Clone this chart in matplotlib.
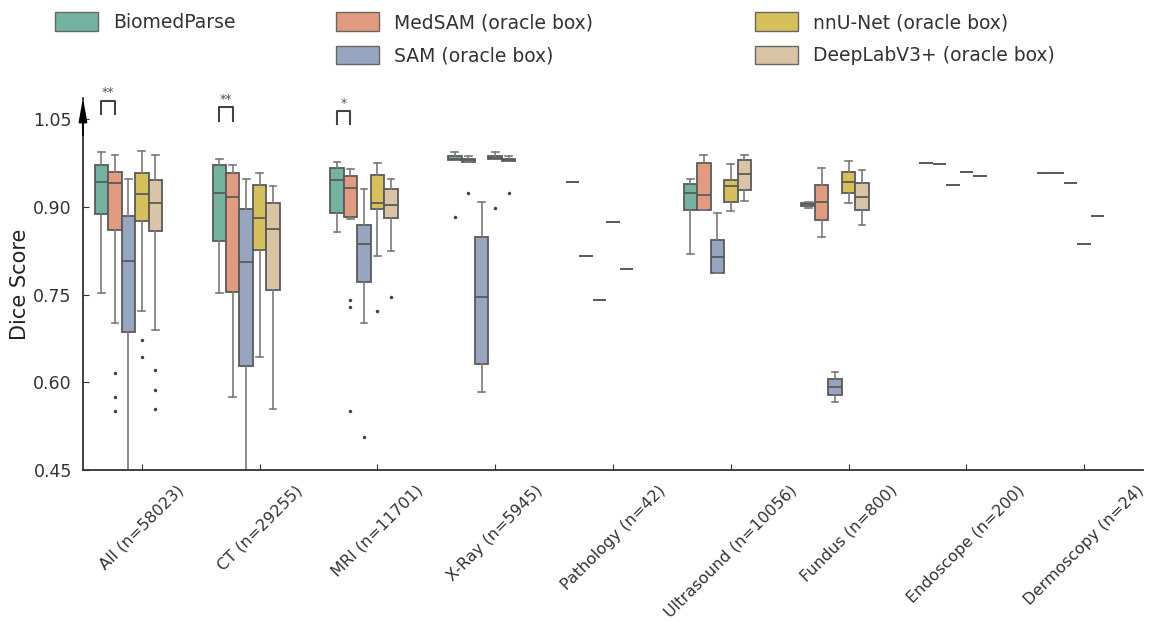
#!/usr/bin/python3

import matplotlib
matplotlib.use('Agg')
import matplotlib.pyplot as plt
from matplotlib.patches import Patch

CATEGORIES = ['All (n=58023)', 'CT (n=29255)', 'MRI (n=11701)', 'X-Ray (n=5945)',
              'Pathology (n=42)', 'Ultrasound (n=10056)', 'Fundus (n=800)',
              'Endoscope (n=200)', 'Dermoscopy (n=24)']
MODELS = ['BiomedParse', 'MedSAM (oracle box)', 'SAM (oracle box)',
          'nnU-Net (oracle box)', 'DeepLabV3+ (oracle box)']
COLORS = ['#73b3a0', '#e09b80', '#98a5c0', '#d6c05a', '#d9c5a5']

# (whislo, q1, median, q3, whishi) per category
BIOMEDPARSE = [(0.753, 0.888, 0.943, 0.971, 0.994), (0.753, 0.841, 0.924, 0.971, 0.982),
               (0.857, 0.889, 0.946, 0.966, 0.977), (0.980, 0.980, 0.981, 0.987, 0.994),
               (0.943,) * 5, (0.820, 0.894, 0.923, 0.939, 0.948),
               (0.898, 0.901, 0.904, 0.906, 0.909), (0.975,) * 5, (0.957,) * 5]
MEDSAM = [(0.702, 0.860, 0.941, 0.960, 0.989), (0.574, 0.755, 0.916, 0.957, 0.972),
          (0.879, 0.882, 0.932, 0.953, 0.964), (0.977, 0.977, 0.980, 0.982, 0.986),
          (0.816,) * 5, (0.894, 0.894, 0.920, 0.974, 0.989),
          (0.848, 0.878, 0.908, 0.937, 0.967), (0.973,) * 5, (0.958,) * 5]
SAM = [(0.30, 0.686, 0.808, 0.884, 0.948), (0.30, 0.628, 0.806, 0.896, 0.948),
       (0.702, 0.771, 0.836, 0.868, 0.930), (0.583, 0.632, 0.745, 0.849, 0.908),
       (0.741,) * 5, (0.786, 0.786, 0.814, 0.843, 0.889),
       (0.566, 0.579, 0.592, 0.605, 0.618), (0.938,) * 5, (0.940,) * 5]
NNUNET = [(0.722, 0.875, 0.922, 0.957, 0.995), (0.643, 0.826, 0.880, 0.937, 0.957),
          (0.816, 0.897, 0.907, 0.955, 0.975), (0.981, 0.981, 0.984, 0.987, 0.994),
          (0.874,) * 5, (0.893, 0.909, 0.935, 0.945, 0.973),
          (0.906, 0.924, 0.942, 0.960, 0.978), (0.959,) * 5, (0.837,) * 5]
DEEPLAB = [(0.689, 0.859, 0.906, 0.946, 0.988), (0.555, 0.758, 0.862, 0.906, 0.935),
           (0.824, 0.881, 0.903, 0.930, 0.948), (0.978, 0.978, 0.980, 0.982, 0.987),
           (0.794,) * 5, (0.910, 0.929, 0.956, 0.980, 0.988),
           (0.869, 0.894, 0.916, 0.940, 0.963), (0.953,) * 5, (0.884,) * 5]

BIOMEDPARSE_FLIERS = [[], [], [], [0.883], [], [], [], [], []]
MEDSAM_FLIERS = [[0.615, 0.574, 0.551], [], [0.741, 0.729, 0.551], [0.924], [], [], [], [], []]
SAM_FLIERS = [[], [], [0.506], [], [], [], [], [], []]
NNUNET_FLIERS = [[0.672, 0.643], [], [0.722], [0.898], [], [], [], [], []]
DEEPLAB_FLIERS = [[0.621, 0.586, 0.555], [], [0.746], [0.924], [], [], [], [], []]

SIG_CATEGORY = [0, 1, 2]
SIG_TEXT = ['**', '**', '*']
SIG_TOP = [1.081, 1.070, 1.063]
SIG_BOTTOM = [1.058, 1.047, 1.042]

STATS = [BIOMEDPARSE, MEDSAM, SAM, NNUNET, DEEPLAB]
FLIERS = [BIOMEDPARSE_FLIERS, MEDSAM_FLIERS, SAM_FLIERS, NNUNET_FLIERS, DEEPLAB_FLIERS]
NSLOTS = 7          # hue slots per category (two of them are empty)
SLOT = 0.8 / NSLOTS
EDGE = '#5a5a5a'


def slot_x(cat, model):
    return cat + (model - 3) * SLOT


fig = plt.figure(figsize=(11.49, 6.21), dpi=100)
ax = fig.add_axes([0.0722, 0.2432, 0.9226, 0.599])

for m, (stats, fliers) in enumerate(zip(STATS, FLIERS)):
    bxp_stats = []
    for c, (lo, q1, med, q3, hi) in enumerate(stats):
        bxp_stats.append(dict(whislo=lo, q1=q1, med=med, q3=q3, whishi=hi, fliers=fliers[c]))
    ax.bxp(bxp_stats, positions=[slot_x(c, m) for c in range(len(CATEGORIES))],
           widths=SLOT, patch_artist=True, manage_ticks=False,
           boxprops=dict(facecolor=COLORS[m], edgecolor=EDGE, linewidth=1.3),
           medianprops=dict(color=EDGE, linewidth=1.3),
           whiskerprops=dict(color='#7a7a7a', linewidth=1.2),
           capprops=dict(color='#7a7a7a', linewidth=1.2),
           flierprops=dict(marker='o', markersize=1.5, markerfacecolor='#444444',
                           markeredgecolor='#444444', linestyle='none'))

# significance brackets
for c, txt, top, bot in zip(SIG_CATEGORY, SIG_TEXT, SIG_TOP, SIG_BOTTOM):
    x0, x1 = slot_x(c, 0), slot_x(c, 1)
    ax.plot([x0, x0, x1, x1], [bot, top, top, bot], color='#444444', lw=1.5, clip_on=False)
    ax.text((x0 + x1) / 2, top + 0.003, txt, ha='center', va='bottom', fontsize=9,
            color='#555555')

ax.set_xlim(-0.5, len(CATEGORIES) - 0.5)
ax.set_ylim(0.45, 1.086)
ax.set_yticks([0.45, 0.60, 0.75, 0.90, 1.05])
ax.set_yticklabels(['%.2f' % v for v in [0.45, 0.60, 0.75, 0.90, 1.05]])
ax.set_xticks(range(len(CATEGORIES)))
ax.set_xticklabels(CATEGORIES, rotation=45, ha='center')
ax.tick_params(axis='x', direction='in', length=4, pad=9, labelsize=11.5, colors='#333333')
ax.tick_params(axis='y', direction='in', length=4, pad=8, labelsize=12.5, colors='#333333')
ax.set_ylabel('Dice Score', fontsize=15, color='#222222', labelpad=2)

for side in ['top', 'right']:
    ax.spines[side].set_visible(False)
for side in ['left', 'bottom']:
    ax.spines[side].set_color('#333333')
    ax.spines[side].set_linewidth(1.3)

ax.annotate('', xy=(0, 1.0), xycoords='axes fraction', xytext=(0, 0.9),
            arrowprops=dict(arrowstyle='-|>,head_length=1.0,head_width=0.18',
                            color='black', lw=1.3, mutation_scale=14,
                            shrinkA=0, shrinkB=0))

# legend in three column blocks
handles = [Patch(facecolor=COLORS[m], edgecolor='#666666', linewidth=1.0) for m in range(5)]
blocks = [([0], 0.0479), ([1, 2], 0.2924), ([3, 4], 0.6571)]
for idx, xpos in blocks:
    leg = fig.legend([handles[i] for i in idx], [MODELS[i] for i in idx],
                     loc='upper left', bbox_to_anchor=(xpos, 0.98), frameon=False,
                     fontsize=13.5, handlelength=2.3, handleheight=1.15,
                     handletextpad=0.8, labelspacing=0.72, borderpad=0, borderaxespad=0)
    for t in leg.get_texts():
        t.set_color('#333333')

fig.savefig('out.png', dpi=100)
